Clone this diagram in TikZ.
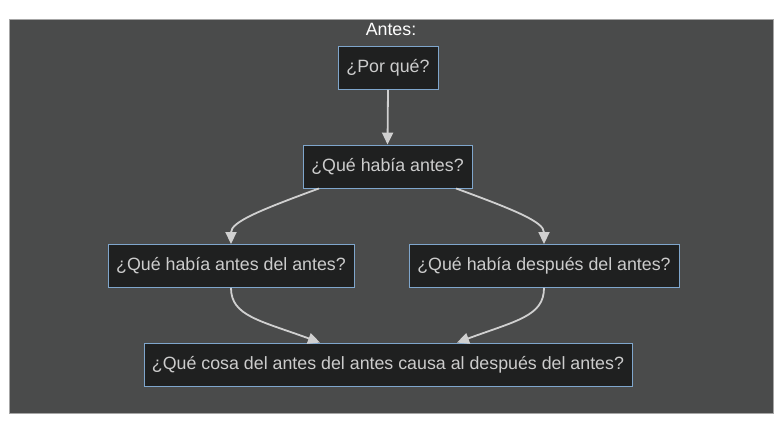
\documentclass[tikz,border=0pt]{standalone}
\usepackage{fontspec}
\setmainfont{Liberation Sans}
\usetikzlibrary{arrows.meta}
\definecolor{bgc}{HTML}{4A4B4B}
\definecolor{nodefill}{HTML}{1F2020}
\definecolor{nodeborder}{HTML}{7FA6CC}
\definecolor{txt}{HTML}{CCCCCC}
\definecolor{edgec}{HTML}{D0D0D0}
\tikzset{
  box/.style={draw=nodeborder, fill=nodefill, line width=0.9pt, text=txt, inner sep=0pt,
    font=\fontsize{17.8}{21}\selectfont, minimum height=43pt, anchor=center},
  conn/.style={draw=edgec, line width=1.8pt, -{Triangle[length=12pt,width=11pt]}}
}
\begin{document}
\begin{tikzpicture}[x=1pt,y=-1pt]
\useasboundingbox (0,0) rectangle (782,433);
\fill[white] (0,0) rectangle (782,433);
\draw[fill=bgc, draw=gray!70, line width=0.6pt] (9,19) rectangle (773,413);
\node[text=white, font=\fontsize{17.8}{21}\selectfont] (title) at (391,29) {Antes:};
\node[box, minimum width=100pt] (a) at (388,68) {¿Por qué?};
\node[box, minimum width=169pt] (b) at (387.5,166.5) {¿Qué había antes?};
\node[box, minimum width=246pt] (c) at (231,266) {¿Qué había antes del antes?};
\node[box, minimum width=270pt] (d) at (544,266) {¿Qué había después del antes?};
\node[box, minimum width=488pt] (e) at (388,364.5) {¿Qué cosa del antes del antes causa al después del antes?};
\draw[conn] (a.south) -- (b.north);
\draw[conn] ([xshift=-68.5pt]b.south) .. controls +(-60,22) and +(0,-22) .. (c.north);
\draw[conn] ([xshift=68.5pt]b.south) .. controls +(60,22) and +(0,-22) .. (d.north);
\draw[conn] (c.south) .. controls +(0,28) and +(-60,-22) .. ([xshift=-68pt]e.north);
\draw[conn] (d.south) .. controls +(0,28) and +(60,-22) .. ([xshift=69pt]e.north);
\end{tikzpicture}
\end{document}
